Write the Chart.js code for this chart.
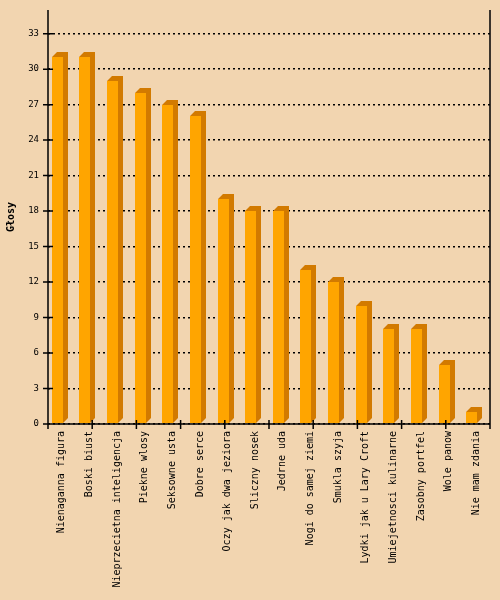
<!DOCTYPE html>
<html>
<head>
<meta charset="utf-8">
<script src="https://cdn.jsdelivr.net/npm/chart.js@4"></script>
<style>
  body { margin: 0; background: #F2D5B0; }
  canvas { display: block; }
</style>
</head>
<body>
<canvas id="votesChart" width="500" height="600"></canvas>
<script>
// dane z wykresu
const categories = ['Nienaganna figura', 'Boski biust', 'Nieprzecietna inteligencja', 'Piekne wlosy',
  'Seksowne usta', 'Dobre serce', 'Oczy jak dwa jeziora', 'Sliczny nosek', 'Jedrne uda',
  'Nogi do samej ziemi', 'Smukla szyja', 'Lydki jak u Lary Croft', 'Umiejetnosci kulinarne',
  'Zasobny portfel', 'Wole panow', 'Nie mam zdania'];
const votes = [31, 31, 29, 28, 27, 26, 19, 18, 18, 13, 12, 10, 8, 8, 5, 1];
const yTicks = [0, 3, 6, 9, 12, 15, 18, 21, 24, 27, 30, 33];

const BG = '#F2D5B0';
const FRONT = '#FFA500';
const SIDE = '#D27A00';
const DEPTH = 5;

// tlo, slupki 3D i osie
const bars3d = {
    id: 'bars3d',
    beforeDraw(chart) {
        const ctx = chart.ctx;
        ctx.save();
        ctx.fillStyle = BG;
        ctx.fillRect(0, 0, chart.width, chart.height);
        ctx.restore();
    },
    afterDatasetsDraw(chart) {
        const ctx = chart.ctx;
        const area = chart.chartArea;
        const y = chart.scales.y;
        ctx.save();
        chart.getDatasetMeta(0).data.forEach(function(bar) {
            const l = Math.round(bar.x) - 10, r = l + 11;
            const t = Math.round(bar.y), b = Math.round(bar.base);
            ctx.fillStyle = FRONT;
            ctx.fillRect(l, t, r - l, b - t);
            ctx.fillStyle = SIDE;
            ctx.beginPath();
            ctx.moveTo(l, t);
            ctx.lineTo(l + DEPTH, t - DEPTH);
            ctx.lineTo(r + DEPTH, t - DEPTH);
            ctx.lineTo(r + DEPTH, b - DEPTH);
            ctx.lineTo(r, b);
            ctx.lineTo(r, t);
            ctx.closePath();
            ctx.fill();
        });

        ctx.strokeStyle = '#000';
        ctx.lineWidth = 1.5;
        ctx.beginPath();
        // os Y i prawa krawedz
        ctx.moveTo(area.left, area.top);
        ctx.lineTo(area.left, area.bottom);
        ctx.moveTo(area.right, area.top);
        ctx.lineTo(area.right, area.bottom + 5);
        // os X
        ctx.moveTo(area.left - 5, area.bottom);
        ctx.lineTo(area.right, area.bottom);
        // znaczniki Y
        yTicks.forEach(function(v) {
            const py = y.getPixelForValue(v);
            ctx.moveTo(area.left - 5, py);
            ctx.lineTo(area.left + 5, py);
        });
        // znaczniki X
        for (let i = 0; i <= 10; i++) {
            const px = area.left + i * (area.right - area.left) / 10;
            ctx.moveTo(px, area.bottom - 4);
            ctx.lineTo(px, area.bottom + 5);
        }
        ctx.stroke();
        ctx.restore();
    }
};

new Chart(document.getElementById('votesChart').getContext('2d'), {
    type: 'bar',
    data: {
        labels: categories,
        datasets: [{
            label: 'Głosy',
            data: votes,
            backgroundColor: 'rgba(0,0,0,0)',
            barThickness: 11
        }]
    },
    options: {
        responsive: false,
        animation: false,
        layout: { padding: { top: 10, right: 10, left: 0, bottom: 0 } },
        plugins: {
            legend: { display: false },
            tooltip: { enabled: false }
        },
        scales: {
            x: {
                grid: { display: false, drawTicks: false },
                border: { display: false },
                ticks: {
                    color: '#000',
                    font: { family: 'DejaVu Sans Mono', size: 10 },
                    minRotation: 90,
                    maxRotation: 90,
                    autoSkip: false,
                    padding: 7
                },
                afterFit: function(scale) {
                    scale.height = 176;
                    scale.paddingLeft = 0;
                    scale.paddingRight = 0;
                }
            },
            y: {
                min: 0,
                max: 35,
                grid: {
                    color: '#000',
                    lineWidth: 1.5,
                    drawTicks: false
                },
                border: { display: false, dash: [2, 3] },
                ticks: {
                    stepSize: 3,
                    color: '#000',
                    font: { family: 'DejaVu Sans Mono', size: 9 },
                    padding: 9
                },
                title: {
                    display: true,
                    text: 'Głosy',
                    color: '#000',
                    font: { family: 'DejaVu Sans Mono', size: 10, weight: 'bold' },
                    padding: { top: 5, bottom: 0 }
                },
                afterBuildTicks: function(scale) {
                    scale.ticks = scale.ticks.filter(function(t) { return yTicks.includes(t.value); });
                },
                afterFit: function(scale) {
                    scale.width = 48;
                    scale.paddingTop = 0;
                    scale.paddingBottom = 0;
                }
            }
        }
    },
    plugins: [bars3d]
});
</script>
</body>
</html>
